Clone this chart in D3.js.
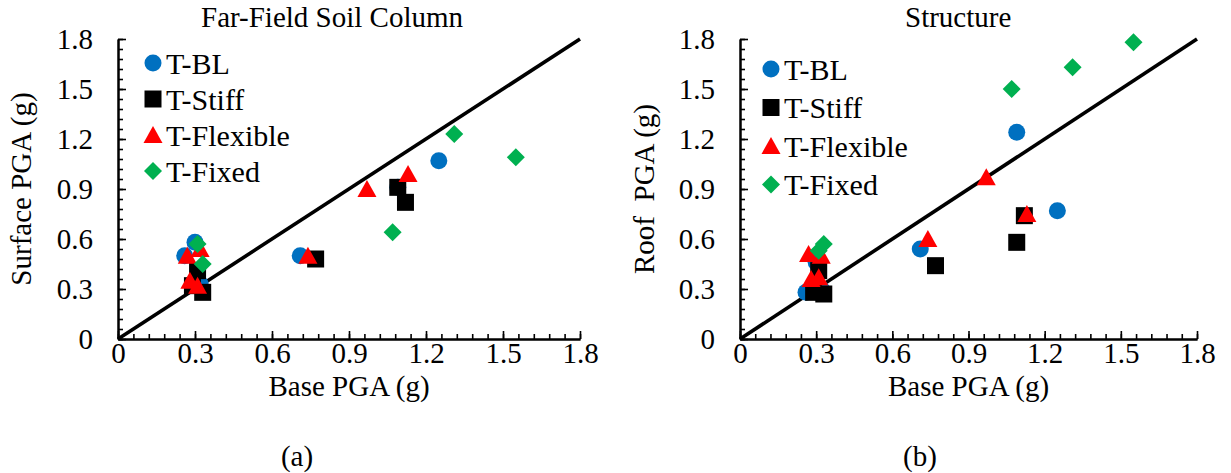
<!DOCTYPE html>
<html>
<head>
<meta charset="utf-8">
<script src="https://cdn.jsdelivr.net/npm/d3@7"></script>
<style>
  html, body { margin: 0; padding: 0; background: #fff; }
  svg { display: block; }
  text { font-family: "Liberation Serif", "Times New Roman", serif; fill: #000; }
</style>
</head>
<body>
<svg id="chart" width="1231" height="473"></svg>
<script>
// ---------------- DATA ----------------
const seriesNames = ["T-BL", "T-Stiff", "T-Flexible", "T-Fixed"];
const tickValues = [0, 0.3, 0.6, 0.9, 1.2, 1.5, 1.8];
const diagonal = [0, 1.8];

// Base PGA (g) per model
const blBase       = [0.26, 0.30, 0.32, 0.71, 1.09, 1.25];
const stiffBase    = [0.29, 0.31, 0.33, 0.77, 1.09, 1.12];
const flexibleBase = [0.27, 0.28, 0.31, 0.32, 0.74, 0.97, 1.13];
const fixedBase    = [0.31, 0.33, 1.07, 1.31, 1.55];

// (a) Far-Field Soil Column: Surface PGA (g)
const blSurface       = [0.50, 0.58, 0.33, 0.50, 0.91, 1.07];
const stiffSurface    = [0.32, 0.41, 0.28, 0.48, 0.91, 0.82];
const flexibleSurface = [0.50, 0.35, 0.32, 0.54, 0.50, 0.90, 0.99];
const fixedSurface    = [0.57, 0.45, 0.64, 1.23, 1.09];

// (b) Structure: Roof PGA (g)
const blRoof       = [0.28, 0.46, 0.30, 0.54, 1.24, 0.77];
const stiffRoof    = [0.28, 0.41, 0.27, 0.44, 0.58, 0.74];
const flexibleRoof = [0.51, 0.36, 0.37, 0.50, 0.60, 0.97, 0.75];
const fixedRoof    = [0.53, 0.57, 1.50, 1.63, 1.78];

const colors = ["#0070C0", "#000000", "#FF0000", "#00B050"];
const shapes = ["circle", "square", "triangle", "diamond"];

// ---------------- DRAW ----------------
const svg = d3.select("#chart");
svg.append("rect").attr("width", 1231).attr("height", 473).attr("fill", "#fff");

function markerPath(shape) {
  switch (shape) {
    case "circle":   return "M8.5,0A8.5,8.5 0 1,1 -8.5,0A8.5,8.5 0 1,1 8.5,0Z";
    case "square":   return "M-8.5,-8.5H8.5V8.5H-8.5Z";
    case "triangle": return "M0,-9L9.5,8H-9.5Z";
    case "diamond":  return "M0,-9L9,0L0,9L-9,0Z";
  }
}

function drawPanel(cfg) {
  const x = d3.scaleLinear().domain([0, 1.8]).range([cfg.x0, cfg.x1]);
  const y = d3.scaleLinear().domain([0, 1.8]).range([cfg.y0, cfg.y1]);
  const g = svg.append("g");
  const minor = d3.range(0, 1.8001, 0.06);

  // minor ticks
  const gxm = g.append("g").attr("transform", `translate(0,${cfg.y0})`)
    .call(d3.axisBottom(x).tickValues(minor).tickSize(-5).tickFormat("").tickSizeOuter(0));
  const gym = g.append("g").attr("transform", `translate(${cfg.x0},0)`)
    .call(d3.axisLeft(y).tickValues(minor).tickSize(-5).tickFormat("").tickSizeOuter(0));
  // major ticks + labels
  const fmt = d => d === 0 ? "0" : d3.format(".1f")(d);
  const gx = g.append("g").attr("transform", `translate(0,${cfg.y0})`)
    .call(d3.axisBottom(x).tickValues(tickValues).tickSize(-8).tickFormat(fmt).tickSizeOuter(0));
  const gy = g.append("g").attr("transform", `translate(${cfg.x0},0)`)
    .call(d3.axisLeft(y).tickValues(tickValues).tickSize(-8).tickFormat(fmt).tickSizeOuter(0));
  [gxm, gym, gx, gy].forEach(a => {
    a.select(".domain").attr("stroke", "#000").attr("stroke-width", 2);
    a.selectAll(".tick line").attr("stroke", "#000").attr("stroke-width", 1.6);
  });
  gx.selectAll(".tick text").attr("font-size", 29).attr("font-family", "Liberation Serif")
    .attr("y", 3).attr("dy", "0.71em");
  gy.selectAll(".tick text").attr("font-size", 29).attr("font-family", "Liberation Serif")
    .attr("x", -25);

  // diagonal 1:1 line
  g.append("path")
    .attr("d", d3.line().x(d => x(d)).y(d => y(d))(diagonal))
    .attr("fill", "none").attr("stroke", "#000").attr("stroke-width", 3.6);

  // series
  cfg.series.forEach((s, i) => {
    g.append("g").selectAll("path")
      .data(s.base.map((b, k) => [b, s.vals[k]]))
      .join("path")
      .attr("d", markerPath(shapes[i]))
      .attr("transform", d => `translate(${x(d[0])},${y(d[1])})`)
      .attr("fill", colors[i]);
  });

  // legend
  seriesNames.forEach((name, i) => {
    const ly = cfg.legY + i * cfg.legDy;
    g.append("path").attr("d", markerPath(shapes[i]))
      .attr("transform", `translate(${cfg.legX},${ly})`).attr("fill", colors[i]);
    g.append("text").attr("x", cfg.legX + 13).attr("y", ly).attr("dy", "0.35em")
      .attr("font-size", 30).text(name);
  });

  // titles & labels
  g.append("text").attr("x", cfg.titleX).attr("y", 26.5).attr("font-size", 29).text(cfg.title);
  g.append("text").attr("x", (cfg.x0 + cfg.x1) / 2).attr("y", 396)
    .attr("text-anchor", "middle").attr("font-size", 29).text("Base PGA (g)");
  g.append("text").attr("transform", `translate(${cfg.ylabX},${(cfg.y0 + cfg.y1) / 2}) rotate(-90)`)
    .attr("text-anchor", "middle").attr("font-size", 29).style("white-space", "pre")
    .attr("xml:space", "preserve").text(cfg.ylabel);
  g.append("text").attr("x", cfg.subX).attr("y", 466).attr("text-anchor", "middle")
    .attr("font-size", 29).text(cfg.sub);
}

drawPanel({
  x0: 118, x1: 580, y0: 339, y1: 39,
  title: "Far-Field Soil Column", titleX: 201,
  ylabel: "Surface PGA (g)", ylabX: 31, sub: "(a)", subX: 297,
  legX: 153, legY: 63, legDy: 36,
  series: [
    { base: blBase, vals: blSurface },
    { base: stiffBase, vals: stiffSurface },
    { base: flexibleBase, vals: flexibleSurface },
    { base: fixedBase, vals: fixedSurface }
  ]
});

drawPanel({
  x0: 740, x1: 1197, y0: 339, y1: 39,
  title: "Structure", titleX: 905,
  ylabel: "Roof  PGA (g)", ylabX: 654, sub: "(b)", subX: 920,
  legX: 771, legY: 69, legDy: 38.5,
  series: [
    { base: blBase, vals: blRoof },
    { base: stiffBase, vals: stiffRoof },
    { base: flexibleBase, vals: flexibleRoof },
    { base: fixedBase, vals: fixedRoof }
  ]
});
</script>
</body>
</html>
